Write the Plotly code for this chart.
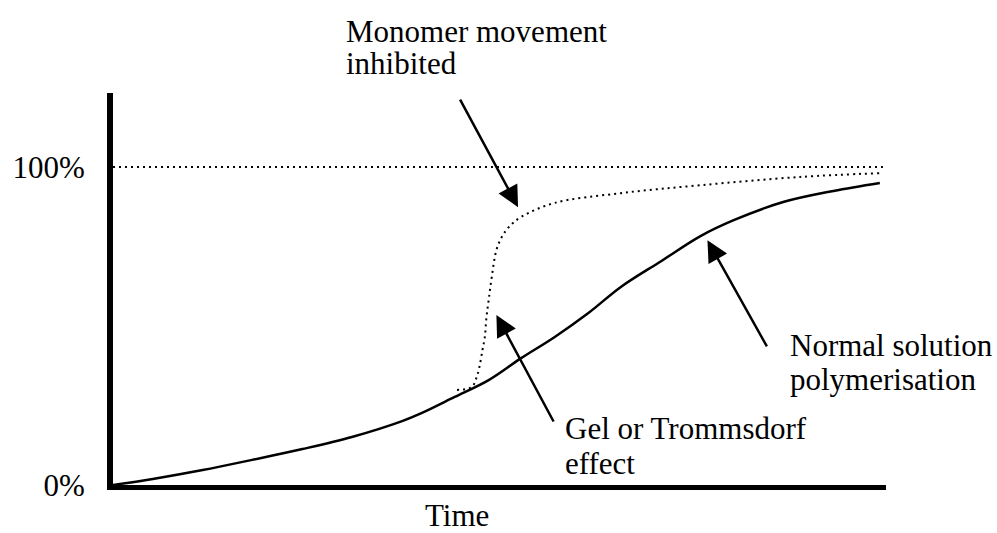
import plotly.graph_objects as go

# ---- data (time in arbitrary units 0..100, conversion in %) ----
normal_time = [0, 5.15, 11.6, 18.0, 24.5, 30.9, 37.4, 39.9, 44.2, 48.6, 52.8, 57.1,
               61.5, 65.7, 70.9, 76.0, 80.3, 86.7, 93.2, 99.2]
normal_conv = [0, 1.9, 4.7, 7.9, 11.3, 15.1, 20.1, 22.6, 27.7, 33.0, 39.9, 46.5,
               54.1, 62.3, 70.4, 78.3, 83.3, 89.0, 92.5, 95.0]

gel_time = [44.5, 46.4, 47.0, 47.4, 47.8, 48.1, 48.3, 48.6, 49.0, 49.6, 50.3, 51.2,
            52.8, 57.1, 65.7, 76.0, 88.9, 99.2]
gel_conv = [29.9, 30.8, 33.6, 37.1, 42.5, 46.5, 52.5, 58.2, 65.4, 73.9, 78.0, 81.1,
            84.3, 88.7, 91.8, 94.3, 96.9, 98.1]

limit_time = [0, 99.6]
limit_conv = [100, 100]

tick_vals = [0, 100]
tick_text = ["0%", "100%"]

FONT = "Liberation Serif, Times New Roman, serif"
FS = 31

fig = go.Figure()
fig.add_trace(go.Scatter(x=limit_time, y=limit_conv, mode="lines",
                         line=dict(color="black", width=2, dash="2px,4px"),
                         hoverinfo="skip", showlegend=False))
fig.add_trace(go.Scatter(x=gel_time, y=gel_conv, mode="lines", line_shape="spline",
                         line=dict(color="black", width=2, dash="2px,4px"),
                         name="Gel effect", showlegend=False))
fig.add_trace(go.Scatter(x=normal_time, y=normal_conv, mode="lines", line_shape="spline",
                         line=dict(color="black", width=2.5),
                         name="Normal", showlegend=False))

# arrows (tail -> tip, data coordinates)
arrows = [
    ((44.8, 121.7), (52.4, 87.4)),
    ((57.1, 19.5), (49.6, 53.5)),
    ((84.7, 43.1), (76.9, 77.0)),
]
for (tx, ty), (hx, hy) in arrows:
    fig.add_annotation(x=hx, y=hy, ax=tx, ay=ty, xref="x", yref="y", axref="x", ayref="y",
                       text="", showarrow=True, arrowhead=2, arrowsize=1.7,
                       arrowwidth=2.5, arrowcolor="black", standoff=0)

labels = [
    ("Monomer movement", 0.300, 1.158),
    ("inhibited", 0.300, 1.074),
    ("Gel or Trommsdorf", 0.584, 0.143),
    ("effect", 0.584, 0.054),
    ("Normal solution", 0.874, 0.357),
    ("polymerisation", 0.874, 0.270),
    ("Time", 0.402, -0.079),
]
for txt, px, py in labels:
    fig.add_annotation(x=px, y=py, xref="paper", yref="paper", text=txt, showarrow=False,
                       xanchor="left", yanchor="middle", borderpad=0,
                       font=dict(family=FONT, size=FS, color="black"))

fig.update_layout(
    width=997, height=533,
    margin=dict(l=110, r=111, t=93, b=48),
    paper_bgcolor="white", plot_bgcolor="white",
    font=dict(family=FONT, size=FS, color="black"),
    xaxis=dict(range=[0, 100], showgrid=False, zeroline=False, showticklabels=False,
               showline=True, linecolor="black", linewidth=5, ticks=""),
    yaxis=dict(range=[0, 123.3], showgrid=False, zeroline=False,
               tickvals=tick_vals, ticktext=tick_text, ticks="",
               tickfont=dict(family=FONT, size=FS, color="black"),
               ticklabelstandoff=16,
               showline=True, linecolor="black", linewidth=6),
)

fig.write_html("out.html",
               config={"displayModeBar": False},
               post_script="document.body.style.margin='0px';"
                           "document.body.style.overflow='hidden';")
